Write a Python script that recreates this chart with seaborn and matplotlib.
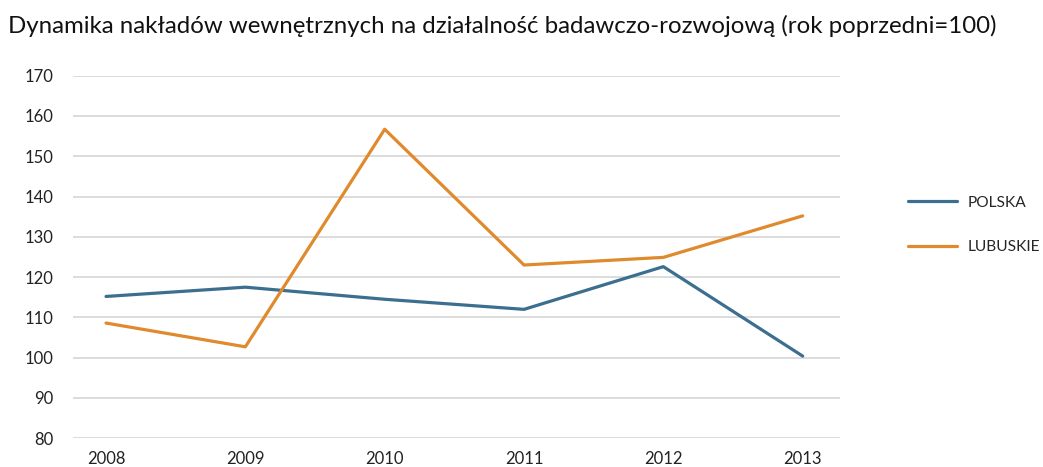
import matplotlib
matplotlib.use("Agg")
import matplotlib.pyplot as plt
import seaborn as sns
import pandas as pd

years = ["2008", "2009", "2010", "2011", "2012", "2013"]
polska = [115.2, 117.5, 114.5, 112.0, 122.6, 100.4]
lubuskie = [108.6, 102.7, 156.7, 123.0, 124.9, 135.2]
series_names = ["POLSKA", "LUBUSKIE"]
y_ticks = [80, 90, 100, 110, 120, 130, 140, 150, 160, 170]

df = pd.DataFrame({
    "rok": list(range(len(years))) * 2,
    "wartosc": polska + lubuskie,
    "seria": [series_names[0]] * len(years) + [series_names[1]] * len(years),
})

sns.set_theme(style="white")
plt.rcParams["font.family"] = ["Lato", "DejaVu Sans"]

fig = plt.figure(figsize=(10.43, 4.67), dpi=100)
ax = fig.add_axes([0.07, 0.0615, 0.735, 0.7765])

palette = {"POLSKA": "#3B6E8F", "LUBUSKIE": "#E08A2E"}
sns.lineplot(data=df, x="rok", y="wartosc", hue="seria", palette=palette,
             linewidth=2.3, ax=ax, legend=False)

ax.set_ylim(80, 170)
ax.set_xlim(-0.237, 5.265)
ax.set_yticks(y_ticks)
ax.set_yticklabels([str(v) for v in y_ticks])
ax.set_xticks(range(len(years)))
ax.set_xticklabels(years)
ax.set_xlabel("")
ax.set_ylabel("")
for y in y_ticks:
    ax.axhline(y, color="#D9D9D9", linewidth=1.3, zorder=0)
for s in ax.spines.values():
    s.set_visible(False)
ax.tick_params(axis="both", length=0, labelsize=12, colors="#222222")
ax.tick_params(axis="y", pad=14)
ax.tick_params(axis="x", pad=9)

# legend
handles = [plt.Line2D([0], [0], color=palette[n], linewidth=2.3) for n in series_names]
fig.legend(handles, series_names, loc="center left", bbox_to_anchor=(0.865, 0.518),
           frameon=False, fontsize=11.2, handlelength=3.1, handletextpad=0.7,
           labelspacing=1.95, borderaxespad=0)

fig.text(0.008, 0.945, "Dynamika nakładów wewnętrznych na działalność badawczo-rozwojową (rok poprzedni=100)",
         fontsize=17.3, color="#111111", ha="left", va="center")

fig.savefig("out.png", dpi=100, facecolor="white")
